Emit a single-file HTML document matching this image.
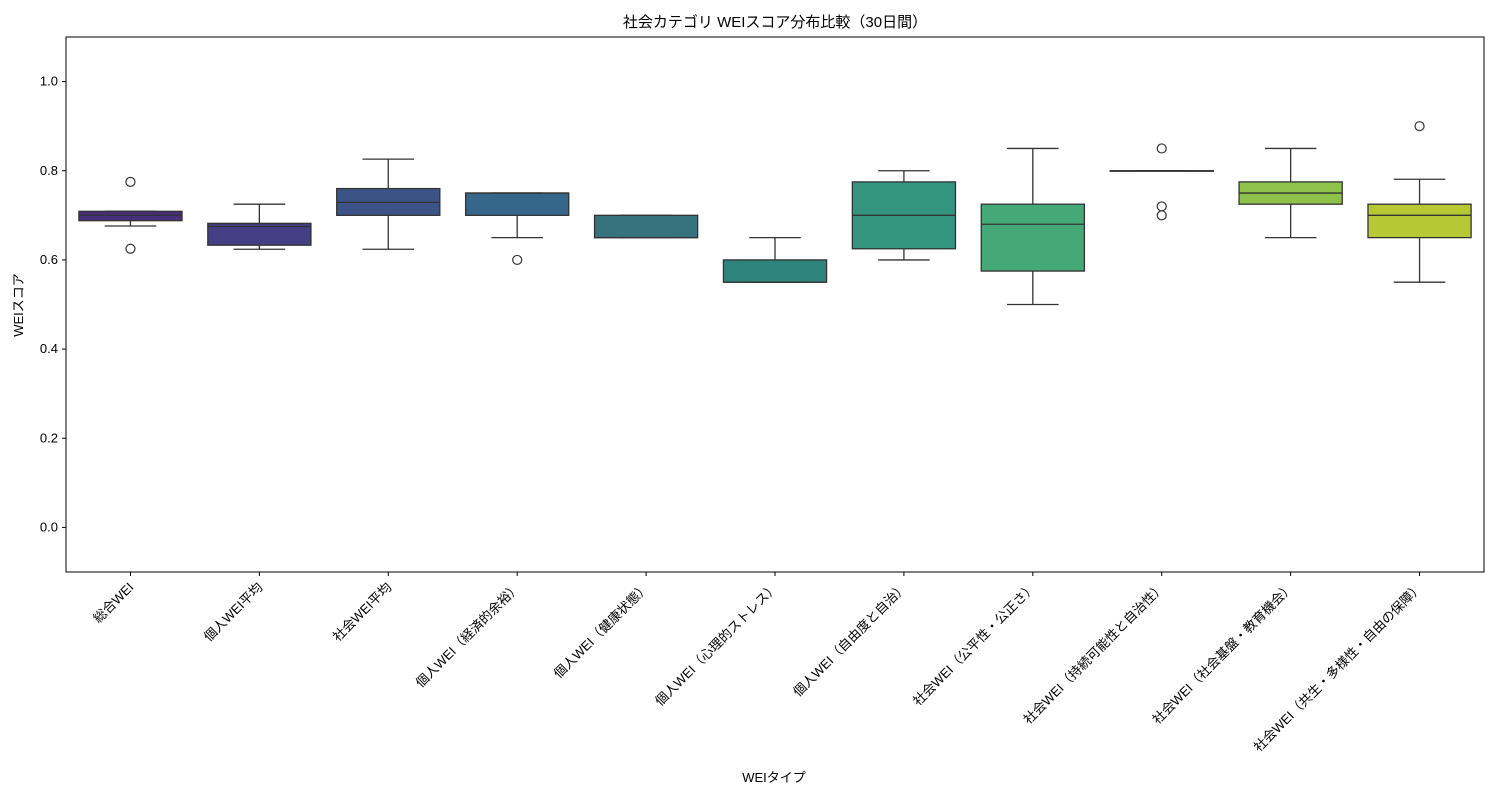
<!DOCTYPE html>
<html><head><meta charset="utf-8"><style>
body{margin:0;background:#fff;}
svg text{font-family:"Liberation Sans","Noto Sans CJK JP",sans-serif;fill:#000;}
</style></head><body>
<svg id="chart" width="1500" height="800" xmlns="http://www.w3.org/2000/svg">
<rect x="0" y="0" width="1500" height="800" fill="#fff"/>
<text x="775" y="27" font-size="15" text-anchor="middle">社会カテゴリ WEIスコア分布比較（30日間）</text>
<g id="plot"></g>
<rect x="66" y="37" width="1418" height="535" fill="none" stroke="#000" stroke-width="1"/>
<text x="774" y="782" font-size="13" text-anchor="middle">WEIタイプ</text>
<text transform="translate(23,305) rotate(-90)" font-size="13" text-anchor="middle">WEIスコア</text>
</svg>
<script>
const categories=["総合WEI","個人WEI平均","社会WEI平均","個人WEI（経済的余裕）","個人WEI（健康状態）","個人WEI（心理的ストレス）","個人WEI（自由度と自治）","社会WEI（公平性・公正さ）","社会WEI（持続可能性と自治性）","社会WEI（社会基盤・教育機会）","社会WEI（共生・多様性・自由の保障）"];
const whiskerLow=[0.676,0.624,0.624,0.65,0.65,0.55,0.60,0.50,0.80,0.65,0.55];
const q1=[0.688,0.633,0.70,0.70,0.65,0.55,0.625,0.575,0.80,0.725,0.65];
const medians=[0.70,0.675,0.729,0.75,0.65,0.55,0.70,0.68,0.80,0.75,0.70];
const q3=[0.709,0.682,0.76,0.75,0.70,0.60,0.775,0.725,0.80,0.775,0.725];
const whiskerHigh=[0.709,0.725,0.826,0.75,0.70,0.65,0.80,0.85,0.80,0.85,0.781];
const outliers=[[0.775,0.625],[],[],[0.60],[],[],[],[],[0.85,0.72,0.70],[],[0.90]];
const yTicks=[0.0,0.2,0.4,0.6,0.8,1.0];
const colors=["#482f7c","#443f84","#3c5387","#366689","#36737f","#2e837c","#33957d","#45a877","#6eb55c","#8fc24b","#b6c934"];
const NS="http://www.w3.org/2000/svg";
const X0=66,X1=1484,Y0=37,Y1=572,ymin=-0.1,ymax=1.1;
const y=v=>Y1-(v-ymin)/(ymax-ymin)*(Y1-Y0);
const step=(X1-X0)/categories.length;
const x=i=>X0+step*(i+0.5);
const g=document.getElementById('plot');
function mk(t,a){const e=document.createElementNS(NS,t);for(const k in a)e.setAttribute(k,a[k]);g.appendChild(e);return e;}
yTicks.forEach(t=>{
  const l=mk('line',{x1:X0-4,x2:X0,y1:y(t),y2:y(t),stroke:'#000'});
  
  
  const tx=mk('text',{x:X0-8,y:y(t)+4,'font-size':13,'text-anchor':'end'});
  tx.textContent=t.toFixed(1);
  
  
});
const bw=step*0.8,c='#333';
categories.forEach((cat,i)=>{
  const cx=x(i);
  const tk=mk('line',{x1:cx,x2:cx,y1:Y1,y2:Y1+4,stroke:'#000'});
  
  
  const lb=mk('text',{'font-size':13,'text-anchor':'end',transform:`translate(${cx+4},${Y1+16}) rotate(-45)`});
  lb.textContent=cat;
  
  
  const w1=mk('line',{x1:cx,x2:cx,y1:y(q1[i]),y2:y(whiskerLow[i]),stroke:c,'stroke-width':1.3});
  
  
  const w2=mk('line',{x1:cx,x2:cx,y1:y(q3[i]),y2:y(whiskerHigh[i]),stroke:c,'stroke-width':1.3});
  
  
  [whiskerLow[i],whiskerHigh[i]].forEach(v=>{
    const cap=mk('line',{x1:cx-bw/4,x2:cx+bw/4,y1:y(v),y2:y(v),stroke:c,'stroke-width':1.3});
    
    
  });
  const b=mk('rect',{x:cx-bw/2,y:y(q3[i]),width:bw,height:Math.max(0.5,y(q1[i])-y(q3[i])),fill:colors[i],stroke:c,'stroke-width':1.3});
  
  
  const m=mk('line',{x1:cx-bw/2,x2:cx+bw/2,y1:y(medians[i]),y2:y(medians[i]),stroke:c,'stroke-width':1.3});
  
  
  outliers[i].forEach(v=>{
    const o=mk('circle',{cx:cx,cy:y(v),r:4.5,fill:'none',stroke:c,'stroke-width':1.2});
    
    
  });
});
</script>
</body></html>
